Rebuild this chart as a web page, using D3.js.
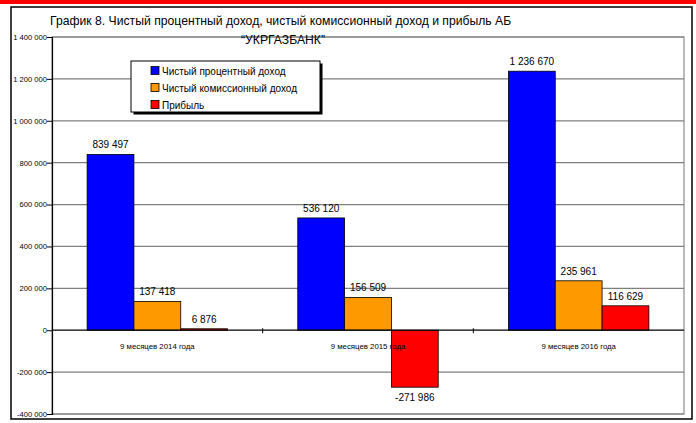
<!DOCTYPE html>
<html><head><meta charset="utf-8">
<script src="https://cdn.jsdelivr.net/npm/d3@7"></script>
<style>body{margin:0;background:#fff}svg{display:block}text{font-family:"Liberation Sans",Arial,sans-serif}</style>
</head><body><svg id="c" width="696" height="423"></svg>
<script>
const categories = ["9 месяцев 2014 года", "9 месяцев 2015 года", "9 месяцев 2016 года"];
const seriesNames = ["Чистый процентный доход", "Чистый комиссионный доход", "Прибыль"];
const netInterest = [839497, 536120, 1236670];
const netCommission = [137418, 156509, 235961];
const profit = [6876, -271986, 116629];
const colors = ["#0000ff", "#ff9900", "#ff0000"];
const yTicks = [-400000, -200000, 0, 200000, 400000, 600000, 800000, 1000000, 1200000, 1400000];
const titleLine1 = "График 8. Чистый процентный доход, чистый комиссионный доход и прибыль АБ";
const titleLine2 = "“УКРГАЗБАНК”";

const series = [netInterest, netCommission, profit];
const svg = d3.select("#c");
const fmt = v => (v < 0 ? "-" : "") + d3.format(",")(Math.abs(v)).replace(/,/g, " ");

// red band + outer frame
svg.append("rect").attr("x",0).attr("y",0).attr("width",696).attr("height",4).attr("fill","#ff0000");
svg.append("rect").attr("x",11).attr("y",7).attr("width",681).attr("height",412).attr("fill","#fff").attr("stroke","#000").attr("stroke-width",1.5);

const L = 52, R = 684, T = 37, B = 414;
const y = d3.scaleLinear().domain([-400000, 1400000]).range([B, T]);
const x0 = d3.scaleBand().domain(categories).range([L, R]).paddingInner(0).paddingOuter(0);
const bw = x0.bandwidth() / 4.5;
const x1 = d3.scaleBand().domain(d3.range(3)).range([bw*0.75, bw*0.75 + 3*bw]);

// plot area border
svg.append("rect").attr("x",L).attr("y",T).attr("width",R-L).attr("height",B-T).attr("fill","none").attr("stroke","#8c8c8c").attr("stroke-width",1.2);

// gridlines
svg.append("g").selectAll("line").data(yTicks.filter(d=>d!==0)).join("line")
  .attr("x1",L).attr("x2",R).attr("y1",d=>y(d)).attr("y2",d=>y(d))
  .attr("stroke","#7f7f7f").attr("stroke-width",1.2);

// y axis
const yAxis = d3.axisLeft(y).tickValues(yTicks).tickSize(5).tickFormat(fmt);
const ga = svg.append("g").attr("transform",`translate(${L},0)`).call(yAxis);
ga.select(".domain").attr("stroke","#000").attr("stroke-width",1.2);
ga.selectAll(".tick line").attr("stroke","#000");
ga.selectAll(".tick text").attr("font-size",7.6).attr("font-family","Liberation Sans, Arial, sans-serif").attr("fill","#000").attr("x",-5);

// bars
const groups = svg.append("g").selectAll("g").data(categories).join("g")
  .attr("transform", c => `translate(${x0(c)},0)`);
groups.selectAll("rect").data((c,i)=>series.map((s,k)=>({k, v:s[i]}))).join("rect")
  .attr("x",d=>x1(d.k)).attr("width",x1.bandwidth())
  .attr("y",d=>y(Math.max(0,d.v))).attr("height",d=>Math.abs(y(d.v)-y(0)))
  .attr("fill",d=>colors[d.k]).attr("stroke","#000").attr("stroke-width",0.8);

// zero axis
svg.append("line").attr("x1",L).attr("x2",R).attr("y1",y(0)).attr("y2",y(0)).attr("stroke","#000").attr("stroke-width",1.2);
svg.append("g").selectAll("line").data(categories.slice(1)).join("line")
  .attr("x1",c=>x0(c)).attr("x2",c=>x0(c)).attr("y1",y(0)-2).attr("y2",y(0)+3).attr("stroke","#000");

// category labels
svg.append("g").selectAll("text").data(categories).join("text")
  .attr("x",c=>x0(c)+x0.bandwidth()/2).attr("y",y(0)+19).attr("text-anchor","middle")
  .attr("font-size",7.8).attr("fill","#000").text(c=>c);

// value labels
groups.selectAll("text.v").data((c,i)=>series.map((s,k)=>({k, v:s[i]}))).join("text")
  .attr("class","v")
  .attr("x",d=>x1(d.k)+x1.bandwidth()/2)
  .attr("y",d=> d.v>=0 ? y(d.v)-6 : y(d.v)+14)
  .attr("text-anchor","middle").attr("font-size",10).attr("fill","#000")
  .text(d=>fmt(d.v));

// title
svg.append("text").attr("x",50).attr("y",25).attr("font-size",12.2).attr("fill","#000").text(titleLine1);
svg.append("text").attr("x",283).attr("y",44).attr("text-anchor","middle").attr("font-size",12.2).attr("fill","#000").text(titleLine2);

// legend
const lg = svg.append("g").attr("transform","translate(131,61)");
lg.append("rect").attr("x",2.5).attr("y",2.5).attr("width",189).attr("height",51).attr("fill","#000");
lg.append("rect").attr("x",0).attr("y",0).attr("width",189).attr("height",51).attr("fill","#fff").attr("stroke","#000").attr("stroke-width",1);
const li = lg.selectAll("g").data(seriesNames).join("g").attr("transform",(d,i)=>`translate(20,${10+i*17})`);
li.append("rect").attr("x",0).attr("y",-4.5).attr("width",8).attr("height",8).attr("fill",(d,i)=>colors[i]).attr("stroke","#000").attr("stroke-width",0.8);
li.append("text").attr("x",11).attr("y",3.5).attr("font-size",10).attr("fill","#000").text(d=>d);
</script></body></html>
